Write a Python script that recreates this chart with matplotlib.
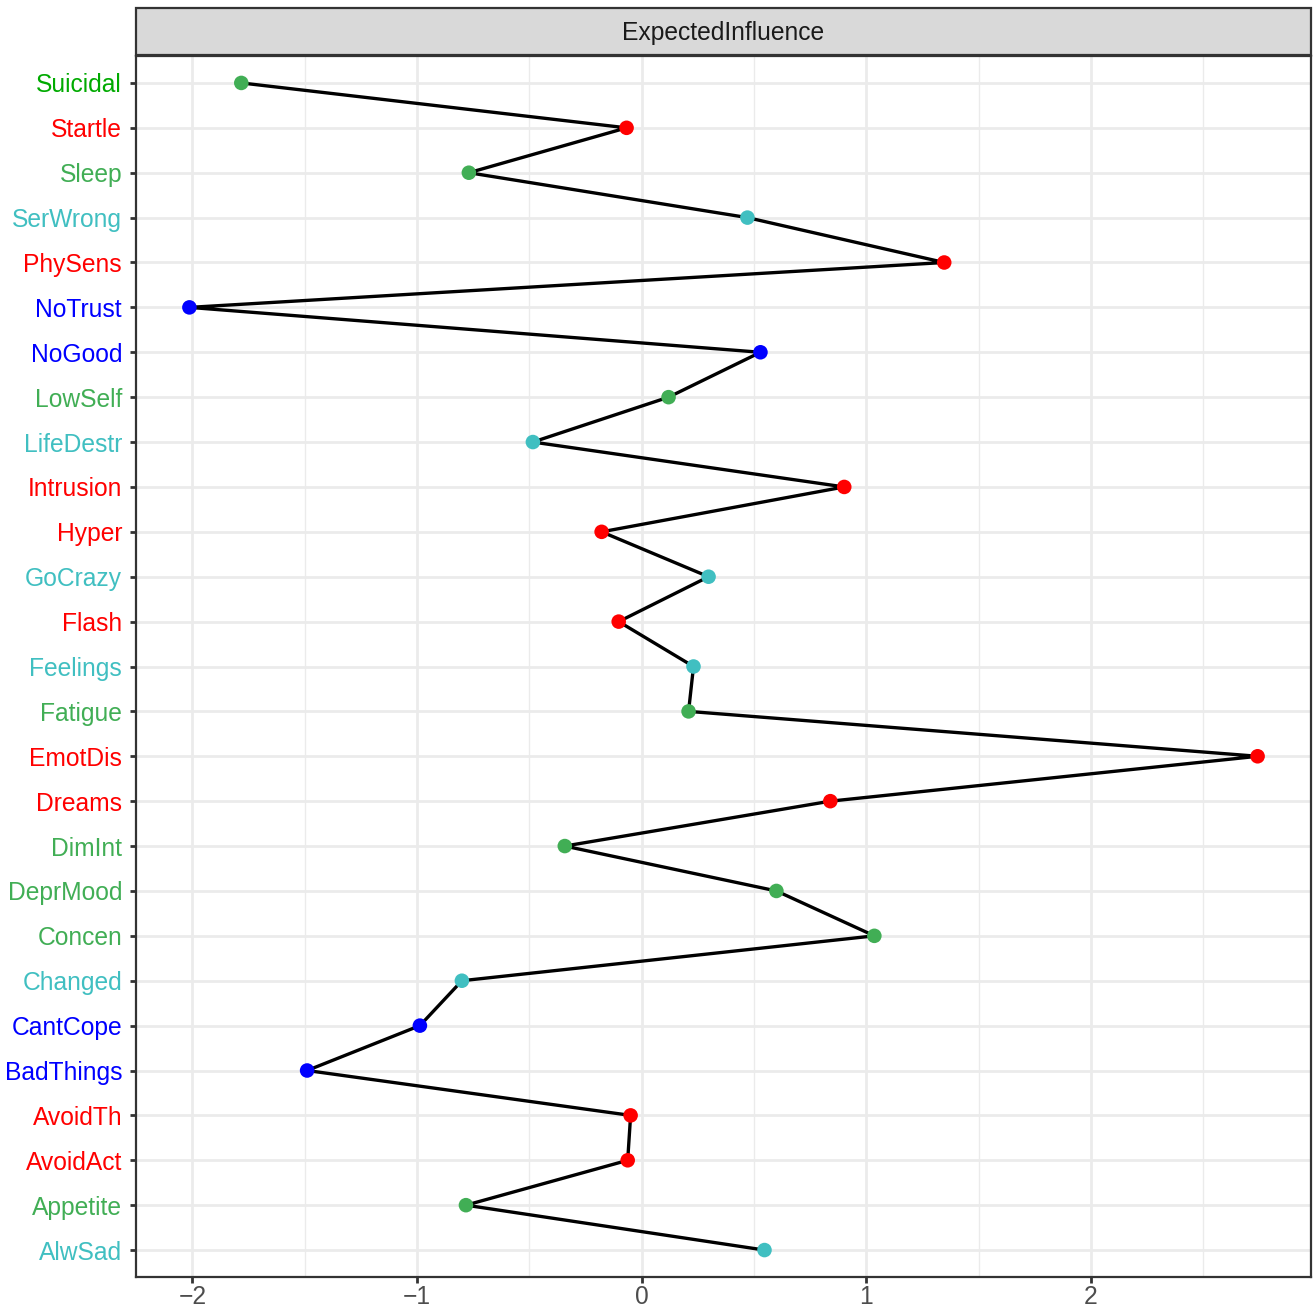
import matplotlib.pyplot as plt
from matplotlib.patches import Rectangle

plt.rcParams['font.family'] = ['Liberation Sans', 'DejaVu Sans']

# nodes, bottom to top (alphabetical)
nodes = ['AlwSad', 'Appetite', 'AvoidAct', 'AvoidTh', 'BadThings', 'CantCope',
         'Changed', 'Concen', 'DeprMood', 'DimInt', 'Dreams', 'EmotDis',
         'Fatigue', 'Feelings', 'Flash', 'GoCrazy', 'Hyper', 'Intrusion',
         'LifeDestr', 'LowSelf', 'NoGood', 'NoTrust', 'PhySens', 'SerWrong',
         'Sleep', 'Startle', 'Suicidal']
values = [0.547, -0.782, -0.062, -0.049, -1.489, -0.987,
          -0.800, 1.036, 0.600, -0.342, 0.840, 2.742,
          0.209, 0.231, -0.102, 0.298, -0.178, 0.902,
          -0.484, 0.120, 0.529, -2.013, 1.347, 0.471,
          -0.769, -0.067, -1.782]
groups = ['c', 'g', 'r', 'r', 'b', 'b',
          'c', 'g', 'g', 'g', 'r', 'r',
          'g', 'c', 'r', 'c', 'r', 'r',
          'c', 'g', 'b', 'b', 'r', 'c',
          'g', 'r', 'g']

point_col = {'g': '#41AE55', 'r': '#FF0000', 'b': '#0000FF', 'c': '#40BFC1'}
label_col = dict(point_col)
suicidal_label = '#00AA00'

fig = plt.figure(figsize=(13.14, 13.11), dpi=100)
ax = fig.add_axes([136 / 1314, 1 - 1277 / 1311, 1175 / 1314, 1221 / 1311])

y = list(range(len(nodes)))
ax.plot(values, y, color='black', lw=2.4, zorder=3)
ax.scatter(values, y, s=110, c=[point_col[g] for g in groups], zorder=4,
           linewidths=0)

lo, hi = min(values), max(values)
pad = (hi - lo) * 0.05
ax.set_xlim(lo - pad, hi + pad)
ax.set_ylim(-0.6, len(nodes) - 1 + 0.6)

ax.set_xticks([-2, -1, 0, 1, 2])
ax.set_xticklabels(['\u22122', '\u22121', '0', '1', '2'])
ax.set_xticks([-1.5, -0.5, 0.5, 1.5, 2.5], minor=True)
ax.set_yticks(y)
ax.set_yticklabels(nodes)

ax.grid(True, which='major', color='#EBEBEB', lw=2.0)
ax.grid(True, which='minor', axis='x', color='#EBEBEB', lw=1.0)
ax.set_axisbelow(True)

ax.tick_params(axis='both', which='major', length=4.5, width=2, color='#333333',
               labelsize=17.7)
ax.tick_params(axis='y', pad=5.5)
ax.tick_params(axis='x', labelcolor='#4D4D4D', pad=1.5)
ax.tick_params(axis='both', which='minor', length=0)
for lab, g, n in zip(ax.get_yticklabels(), groups, nodes):
    lab.set_color(suicidal_label if n == 'Suicidal' else label_col[g])

for sp in ax.spines.values():
    sp.set_color('#333333')
    sp.set_linewidth(1.6)

# facet strip
strip = Rectangle((136 / 1314, 1 - 55 / 1311), 1175 / 1314, 47 / 1311,
                  transform=fig.transFigure, facecolor='#D9D9D9',
                  edgecolor='#333333', lw=1.6)
fig.patches.append(strip)
fig.text((136 + 1311) / 2 / 1314, 1 - 33 / 1311, 'ExpectedInfluence',
         ha='center', va='center', fontsize=17.7, color='#1A1A1A')

fig.savefig('out.png', dpi=100)
